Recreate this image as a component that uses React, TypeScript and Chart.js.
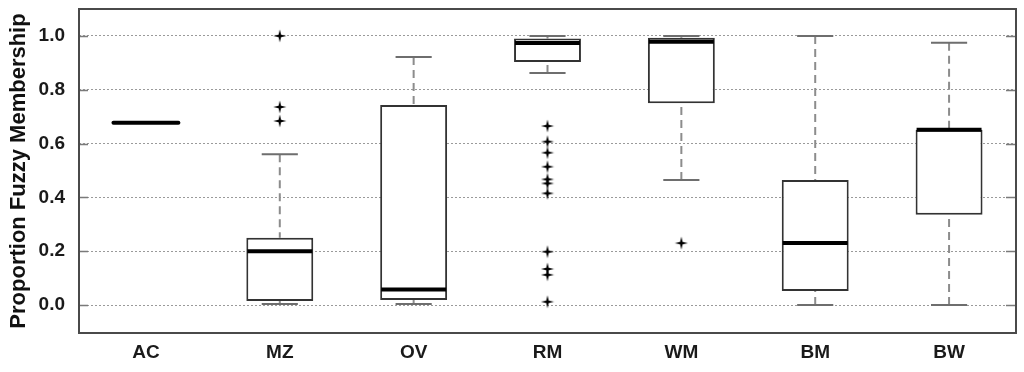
import React, { useEffect, useRef } from 'react';
import { Chart, registerables } from 'chart.js';

Chart.register(...registerables);

const categories = ['AC', 'MZ', 'OV', 'RM', 'WM', 'BM', 'BW'];
const q1 = [null, 0.015, 0.019, 0.903, 0.75, 0.052, 0.335];
const q3 = [null, 0.25, 0.743, 0.99, 0.993, 0.465, 0.651];
const medians = [0.677, 0.2, 0.058, 0.974, 0.978, 0.23, 0.651];
const whiskerLow = [null, 0.004, 0.004, 0.862, 0.465, 0.0, 0.0];
const whiskerHigh = [null, 0.56, 0.922, 1.0, 1.0, 1.0, 0.975];
const mzOutliers = [1.0, 0.736, 0.684];
const rmOutliers = [0.665, 0.607, 0.566, 0.514, 0.467, 0.452, 0.415, 0.198, 0.134, 0.112, 0.012];
const wmOutliers = [0.23];
const yTicks = [0, 0.2, 0.4, 0.6, 0.8, 1.0];
const yTitle = 'Proportion Fuzzy Membership';

const FONT = "'Liberation Sans', Arial, sans-serif";

function makeStar(): HTMLCanvasElement {
  const c = document.createElement('canvas');
  c.width = 14;
  c.height = 14;
  const g = c.getContext('2d')!;
  g.fillStyle = '#000';
  g.beginPath();
  const cx = 7, cy = 7, R = 6.5, r = 1.8;
  for (let k = 0; k < 8; k++) {
    const ang = (k * Math.PI) / 4 - Math.PI / 2;
    const rad = k % 2 === 0 ? R : r;
    g.lineTo(cx + rad * Math.cos(ang), cy + rad * Math.sin(ang));
  }
  g.closePath();
  g.fill();
  return c;
}

const boxPlugin = {
  id: 'boxplotExtras',
  beforeDatasetsDraw(chart: any) {
    const { ctx, scales } = chart;
    const x = scales.x, y = scales.y;
    const step = x.getPixelForValue(1) - x.getPixelForValue(0);
    const capHalf = step * 0.135;
    ctx.save();
    ctx.lineWidth = 2;
    categories.forEach((_, i) => {
      if (whiskerLow[i] == null || whiskerHigh[i] == null) return;
      const cx = x.getPixelForValue(i);
      ctx.strokeStyle = '#8c8c8c';
      ctx.setLineDash([8, 5]);
      ctx.beginPath();
      ctx.moveTo(cx, y.getPixelForValue(whiskerHigh[i]));
      ctx.lineTo(cx, y.getPixelForValue(q3[i] as number));
      ctx.moveTo(cx, y.getPixelForValue(whiskerLow[i]));
      ctx.lineTo(cx, y.getPixelForValue(q1[i] as number));
      ctx.stroke();
      ctx.setLineDash([]);
      ctx.strokeStyle = '#6e6e6e';
      ctx.beginPath();
      const yh = y.getPixelForValue(whiskerHigh[i]);
      const yl = y.getPixelForValue(whiskerLow[i]);
      ctx.moveTo(cx - capHalf, yh);
      ctx.lineTo(cx + capHalf, yh);
      ctx.moveTo(cx - capHalf, yl);
      ctx.lineTo(cx + capHalf, yl);
      ctx.stroke();
    });
    ctx.restore();
  },
  afterDatasetsDraw(chart: any) {
    const { ctx, scales, chartArea: a } = chart;
    const x = scales.x, y = scales.y;
    const step = x.getPixelForValue(1) - x.getPixelForValue(0);
    const half = step * 0.25;
    ctx.save();
    ctx.strokeStyle = '#000';
    ctx.lineWidth = 4;
    categories.forEach((_, i) => {
      const cx = x.getPixelForValue(i);
      const my = y.getPixelForValue(medians[i]);
      ctx.lineCap = q1[i] == null ? 'round' : 'butt';
      ctx.beginPath();
      ctx.moveTo(cx - half + 1, my);
      ctx.lineTo(cx + half - 1, my);
      ctx.stroke();
    });
    // inside ticks
    ctx.lineCap = 'butt';
    ctx.strokeStyle = '#7a7a7a';
    ctx.lineWidth = 1.5;
    yTicks.forEach((t) => {
      const ty = Math.round(y.getPixelForValue(t)) + 0.5;
      ctx.beginPath();
      ctx.moveTo(a.left, ty);
      ctx.lineTo(a.left + 9, ty);
      ctx.moveTo(a.right - 10, ty);
      ctx.lineTo(a.right, ty);
      ctx.stroke();
    });
    // frame
    ctx.strokeStyle = '#4a4a4a';
    ctx.lineWidth = 2;
    ctx.strokeRect(a.left, a.top, a.right - a.left, a.bottom - a.top);
    ctx.restore();
  },
};

export default function App() {
  const ref = useRef<HTMLCanvasElement | null>(null);
  useEffect(() => {
    if (!ref.current) return;
    const star = makeStar();
    const outlierData = [
      ...mzOutliers.map((v) => ({ x: 'MZ', y: v })),
      ...rmOutliers.map((v) => ({ x: 'RM', y: v })),
      ...wmOutliers.map((v) => ({ x: 'WM', y: v })),
    ];
    const chart = new Chart(ref.current, {
      type: 'bar',
      data: {
        labels: categories,
        datasets: [
          {
            type: 'bar',
            data: categories.map((_, i) => (q1[i] == null ? null : [q1[i], q3[i]])) as any,
            backgroundColor: '#ffffff',
            borderColor: '#333333',
            borderWidth: 2,
            borderSkipped: false,
            barPercentage: 0.5,
            categoryPercentage: 1,
            order: 2,
          } as any,
          {
            type: 'line',
            data: outlierData as any,
            showLine: false,
            pointStyle: star as any,
            pointRadius: 6,
            order: 1,
          } as any,
        ],
      },
      options: {
        responsive: false,
        animation: false,
        layout: { padding: { left: 0, top: 9, right: 8, bottom: 0 } },
        plugins: { legend: { display: false }, tooltip: { enabled: false } },
        scales: {
          x: {
            type: 'category',
            offset: true,
            grid: { display: false, drawTicks: false },
            border: { display: false },
            ticks: {
              color: '#1a1a1a',
              padding: 8,
              font: { family: FONT, size: 19, weight: 'bold' },
            },
            afterFit: (s: any) => {
              s.height = 39;
              s.paddingLeft = 0;
              s.paddingRight = 0;
            },
          },
          y: {
            min: -0.104,
            max: 1.1,
            afterBuildTicks: (s: any) => {
              s.ticks = yTicks.map((v) => ({ value: v }));
            },
            grid: { color: '#9a9a9a', lineWidth: 1, drawTicks: false },
            border: { display: false, dash: [2, 2] },
            ticks: {
              color: '#1a1a1a',
              padding: 14,
              font: { family: FONT, size: 19, weight: 'bold', lineHeight: 1 },
              callback: (v: any) => Number(v).toFixed(1),
            },
            title: {
              display: true,
              text: yTitle,
              color: '#111',
              padding: { top: 6, bottom: 0 },
              font: { family: FONT, size: 22, weight: 'bold' },
            },
            afterFit: (s: any) => {
              s.width = 79;
              s.paddingTop = 0;
              s.paddingBottom = 0;
            },
          },
        },
      },
      plugins: [boxPlugin],
    });
    return () => chart.destroy();
  }, []);
  return (
    <div style={{ position: 'fixed', left: 0, top: 0, width: 1024, height: 372, background: '#fff' }}>
      <canvas ref={ref} width={1024} height={372} style={{ display: 'block' }} />
    </div>
  );
}
